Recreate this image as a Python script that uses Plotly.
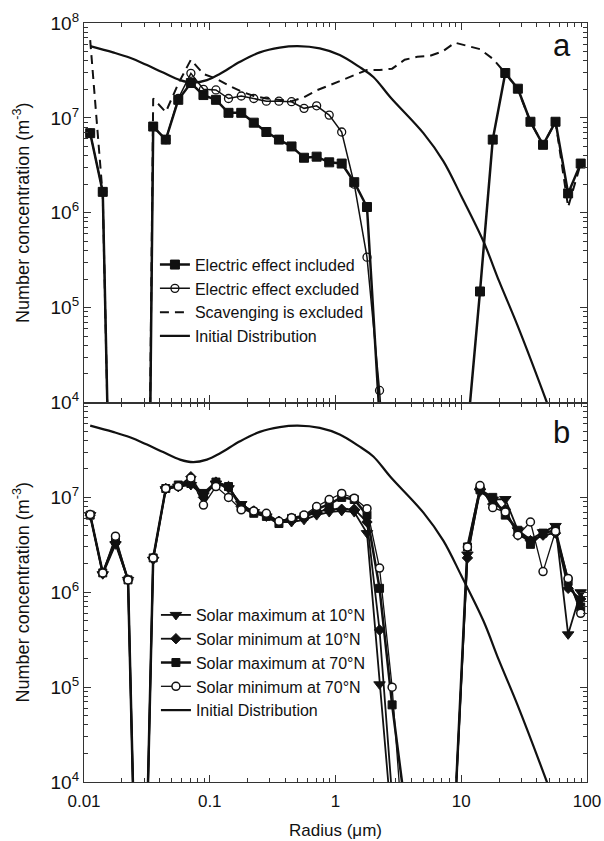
import plotly.graph_objects as go

# ---------------- data ----------------
# size bins (um)
r_left = [0.0112, 0.0141, 0.0178, 0.0224, 0.0282, 0.0355, 0.0447, 0.0562, 0.0708, 0.0891,
          0.112, 0.141, 0.178, 0.224, 0.282, 0.355, 0.447, 0.562, 0.708, 0.891,
          1.12, 1.41, 1.78, 2.24, 2.82, 3.55]
r_right = [8.91, 11.2, 14.1, 17.8, 22.4, 28.2, 35.5, 44.7, 56.2, 70.8, 89.1]

# initial distribution (both panels)
r_init = [0.0112, 0.017, 0.0232, 0.0317, 0.0426, 0.058, 0.074, 0.095, 0.12, 0.174, 0.25, 0.36,
          0.5, 0.75, 1.08, 1.57, 2.0, 2.73, 5.0, 7.2, 10.0, 15.0, 20.0, 28.0, 48.0, 70.0]
n_init = [5.7e7, 4.9e7, 4.3e7, 3.6e7, 3.0e7, 2.5e7, 2.35e7, 2.5e7, 2.9e7, 3.9e7, 4.9e7, 5.5e7,
          5.7e7, 5.4e7, 4.6e7, 3.4e7, 2.7e7, 1.65e7, 6.9e6, 3.5e6, 1.5e6, 5.0e5, 1.9e5, 6.5e4, 1.0e4, 2.5e3]

# panel a
r_a = [0.0112, 0.0141, 0.0178, None, 0.0282, 0.0355, 0.0447, 0.0562, 0.0708, 0.0891,
       0.112, 0.141, 0.178, 0.224, 0.282, 0.355, 0.447, 0.562, 0.708, 0.891,
       1.12, 1.41, 1.78, 2.24, 2.82]
a_incl = [6.9e6, 1.66e6, 1.0, None, 1e-6, 8.1e6, 5.9e6, 1.55e7, 2.33e7, 1.74e7,
          1.55e7, 1.13e7, 1.13e7, 8.9e6, 7.1e6, 5.9e6, 5.0e6, 3.8e6, 3.9e6, 3.4e6,
          3.3e6, 2.1e6, 1.15e6, 7.0e3, None]
a_incl_right = [4.9e3, 4.9e3, 1.48e5, 5.9e6, 2.97e7, 2.03e7, 9.1e6, 5.2e6, 9.1e6, 1.6e6, 3.3e6]
a_excl = [6.9e6, 1.66e6, 1.0, None, 1e-6, 8.1e6, 5.9e6, 1.6e7, 2.95e7, 2.0e7,
          1.97e7, 1.6e7, 1.7e7, 1.6e7, 1.5e7, 1.5e7, 1.48e7, 1.26e7, 1.34e7, 1.07e7,
          7.1e6, 2.0e6, 3.4e5, 1.34e4, 2.0e2]
r_scav = [0.0112, 0.0141, 0.0178, None, 0.0282, 0.0355, 0.0447, 0.0562, 0.0708, 0.0891,
          0.112, 0.141, 0.178, 0.224, 0.282, 0.355, 0.447, 0.562, 0.708, 0.891,
          1.12, 1.41, 1.78, 2.24, 2.82, 3.55, 4.47, 5.62, 7.08, 8.91,
          11.2, 14.1, 17.8, 22.4, 28.2, 35.5, 44.7, 56.2, 70.8, 89.1]
a_scav = [6.6e7, 1.5e6, 1.0, None, 1e-6, 1.6e7, 1.15e7, 2.3e7, 4.1e7, 2.9e7,
          2.6e7, 2.2e7, 1.9e7, 1.7e7, 1.6e7, 1.55e7, 1.5e7, 1.65e7, 1.95e7, 2.2e7,
          2.5e7, 2.8e7, 3.2e7, 3.2e7, 3.3e7, 4.1e7, 4.4e7, 4.5e7, 5.0e7, 6.2e7,
          5.7e7, 5.3e7, 4.2e7, 2.97e7, 2.0e7, 9.1e6, 5.2e6, 9.1e6, 1.15e6, 3.3e6]

# panel b (left group, right group)
b_max10_l = [6.5e6, 1.55e6, 3.2e6, 1.35e6, 4.0, 2.2e6, 1.22e7, 1.3e7, 1.35e7, 1.05e7,
             1.4e7, 1.25e7, 8.5e6, 7.0e6, 6.3e6, 5.5e6, 5.5e6, 5.8e6, 6.5e6, 7.0e6,
             7.2e6, 7.0e6, 4.2e6, 1.07e5, 3.3e3, None]
b_min10_l = [6.5e6, 1.6e6, 3.4e6, 1.35e6, 4.0, 2.3e6, 1.24e7, 1.3e7, 1.65e7, 1.0e7,
             1.45e7, 1.3e7, 8.0e6, 7.2e6, 6.5e6, 5.6e6, 6.0e6, 6.2e6, 7.0e6, 7.5e6,
             7.5e6, 7.5e6, 5.5e6, 4.0e5, 7.0e3, None]
b_max70_l = [6.5e6, 1.6e6, 3.5e6, 1.35e6, 4.0, 2.3e6, 1.24e7, 1.35e7, 1.4e7, 1.1e7,
             1.45e7, 1.3e7, 7.8e6, 6.8e6, 6.3e6, 5.3e6, 6.0e6, 6.3e6, 7.5e6, 8.5e6,
             1.0e7, 9.5e6, 6.5e6, 1.1e6, 6.5e4, 6.0e3]
b_min70_l = [6.6e6, 1.6e6, 3.9e6, 1.35e6, 4.0, 2.3e6, 1.24e7, 1.3e7, 1.6e7, 8.3e6,
             1.3e7, 1.0e7, 7.4e6, 7.2e6, 6.8e6, 5.6e6, 6.1e6, 6.5e6, 8.0e6, 9.5e6,
             1.1e7, 9.8e6, 7.6e6, 1.8e6, 1.0e5, 1.6e3]
b_max10_r = [5.0e3, 2.5e6, 1.15e7, 9.5e6, 9.6e6, 4.5e6, 3.6e6, 4.3e6, 5.0e6, 3.6e5, 1.0e6]
b_min10_r = [5.0e3, 2.3e6, 1.25e7, 8.5e6, 7.5e6, 4.0e6, 3.5e6, 4.0e6, 4.2e6, 1.1e6, 8.5e5]
b_max70_r = [5.0e3, 3.0e6, 1.2e7, 1.0e7, 6.5e6, 4.5e6, 3.2e6, 4.2e6, 4.5e6, 1.3e6, 7.0e5]
b_min70_r = [5.0e3, 3.0e6, 1.33e7, 7.8e6, 7.0e6, 4.0e6, 5.5e6, 1.65e6, 4.4e6, 1.4e6, 6.0e5]

labels_a = ["Electric effect included", "Electric effect excluded",
            "Scavenging is excluded", "Initial Distribution"]
labels_b = ["Solar maximum at 10\u00b0N", "Solar minimum at 10\u00b0N",
            "Solar maximum at 70\u00b0N", "Solar minimum at 70\u00b0N", "Initial Distribution"]

# ---------------- figure ----------------
FONT = "Liberation Sans, Arial, sans-serif"
K = "#111111"
fig = go.Figure()


def add(x, y, name, xa, ya, legend, show=True, width=2.0, dash="solid",
        symbol=None, msize=8, mfill=K, mline=1.0, shape="linear"):
    mode = "lines+markers" if symbol else "lines"
    kw = dict(x=x, y=y, mode=mode, name=name, xaxis=xa, yaxis=ya, legend=legend,
              showlegend=show, line=dict(color=K, width=width, dash=dash, shape=shape))
    if symbol:
        kw["marker"] = dict(symbol=symbol, size=msize, color=mfill,
                            line=dict(color=K, width=mline))
    fig.add_trace(go.Scatter(**kw))


# panel a
add(r_a, a_incl, labels_a[0], "x", "y", "legend", width=2.5, symbol="square", msize=9)
add(r_a, a_excl, labels_a[1], "x", "y", "legend", width=1.5, symbol="circle-open", msize=8, mline=1.3)
add(r_scav, a_scav, labels_a[2], "x", "y", "legend", width=2.0, dash="9px,6px")
add(r_init, n_init, labels_a[3], "x", "y", "legend", width=2.2, shape="spline")
add(r_right, a_incl_right, labels_a[0], "x", "y", "legend", show=False, width=2.5,
    symbol="square", msize=9)

# panel b
add(r_left, b_max10_l, labels_b[0], "x2", "y2", "legend2", width=1.8, symbol="triangle-down", msize=10)
add(r_left, b_min10_l, labels_b[1], "x2", "y2", "legend2", width=1.8, symbol="diamond", msize=8)
add(r_left, b_max70_l, labels_b[2], "x2", "y2", "legend2", width=2.5, symbol="square", msize=8)
add(r_left, b_min70_l, labels_b[3], "x2", "y2", "legend2", width=1.3, symbol="circle", msize=8,
    mfill="white", mline=1.5)
add(r_init, n_init, labels_b[4], "x2", "y2", "legend2", width=2.2, shape="spline")
add(r_right, b_max10_r, labels_b[0], "x2", "y2", "legend2", show=False, width=1.8,
    symbol="triangle-down", msize=10)
add(r_right, b_min10_r, labels_b[1], "x2", "y2", "legend2", show=False, width=1.8,
    symbol="diamond", msize=8)
add(r_right, b_max70_r, labels_b[2], "x2", "y2", "legend2", show=False, width=2.5,
    symbol="square", msize=8)
add(r_right, b_min70_r, labels_b[3], "x2", "y2", "legend2", show=False, width=1.3,
    symbol="circle", msize=8, mfill="white", mline=1.5)

# axes
x_minor = [m * 10.0 ** e for e in range(-2, 2) for m in range(2, 10)]
y_minor = [m * 10.0 ** e for e in range(4, 8) for m in range(2, 10)]
y_major_a = [1e4, 1e5, 1e6, 1e7, 1e8]
y_major_b = [1e4, 1e5, 1e6, 1e7]
x_major = [0.01, 0.1, 1, 10, 100]
x_text = ["0.01", "0.1", "1", "10", "100"]

AX = "#333333"
common = dict(type="log", showline=True, linecolor=AX, linewidth=1.2, mirror="ticks",
              ticks="inside", ticklen=7, tickwidth=1, tickcolor=AX, showgrid=False,
              zeroline=False, automargin=False)
minor = dict(tickmode="array", ticks="inside", ticklen=4, tickcolor=AX, showgrid=False)
ytitle = dict(text="Number concentration (m<sup>-3</sup>)",
              font=dict(family=FONT, size=18, color=K), standoff=16)

fig.update_layout(
    xaxis=dict(common, range=[-2, 2], domain=[0, 1], anchor="y", tickmode="array",
               tickvals=x_major, showticklabels=False, minor=dict(minor, tickvals=x_minor)),
    xaxis2=dict(common, range=[-2, 2], domain=[0, 1], anchor="y2", tickmode="array",
                tickvals=x_major, ticktext=x_text, ticklabelstandoff=3,
                tickfont=dict(family=FONT, size=17, color=K),
                title=dict(text="Radius (\u03bcm)", font=dict(family=FONT, size=17, color=K),
                           standoff=14),
                minor=dict(minor, tickvals=x_minor)),
    yaxis=dict(common, range=[4, 8], domain=[0.5, 1], anchor="x", tickmode="array",
               tickvals=y_major_a, ticktext=["10<sup>%d</sup>" % e for e in range(4, 9)],
               tickfont=dict(family=FONT, size=19, color=K), title=ytitle,
               minor=dict(minor, tickvals=y_minor)),
    yaxis2=dict(common, range=[4, 8], domain=[0, 0.5], anchor="x2", tickmode="array",
                tickvals=y_major_b, ticktext=["10<sup>%d</sup>" % e for e in range(4, 8)],
                tickfont=dict(family=FONT, size=19, color=K), title=ytitle,
                minor=dict(minor, tickvals=y_minor)),
    legend=dict(x=0.141, y=0.704, xanchor="left", yanchor="top", bgcolor="rgba(0,0,0,0)",
                font=dict(family=FONT, size=16, color=K), tracegroupgap=0),
    legend2=dict(x=0.143, y=0.2424, xanchor="left", yanchor="top", bgcolor="rgba(0,0,0,0)",
                 font=dict(family=FONT, size=16, color=K), tracegroupgap=0),
    width=604, height=841,
    margin=dict(l=84, r=17, t=23, b=59),
    paper_bgcolor="white", plot_bgcolor="white",
    font=dict(family=FONT, color=K),
    annotations=[
        dict(text="a", xref="x domain", yref="y domain", x=0.95, y=0.941,
             xanchor="center", yanchor="middle",
             showarrow=False, font=dict(family=FONT, size=31, color=K)),
        dict(text="b", xref="x2 domain", yref="y2 domain", x=0.95, y=0.922,
             xanchor="center", yanchor="middle",
             showarrow=False, font=dict(family=FONT, size=31, color=K)),
    ],
)

fig.write_html("out.html")
